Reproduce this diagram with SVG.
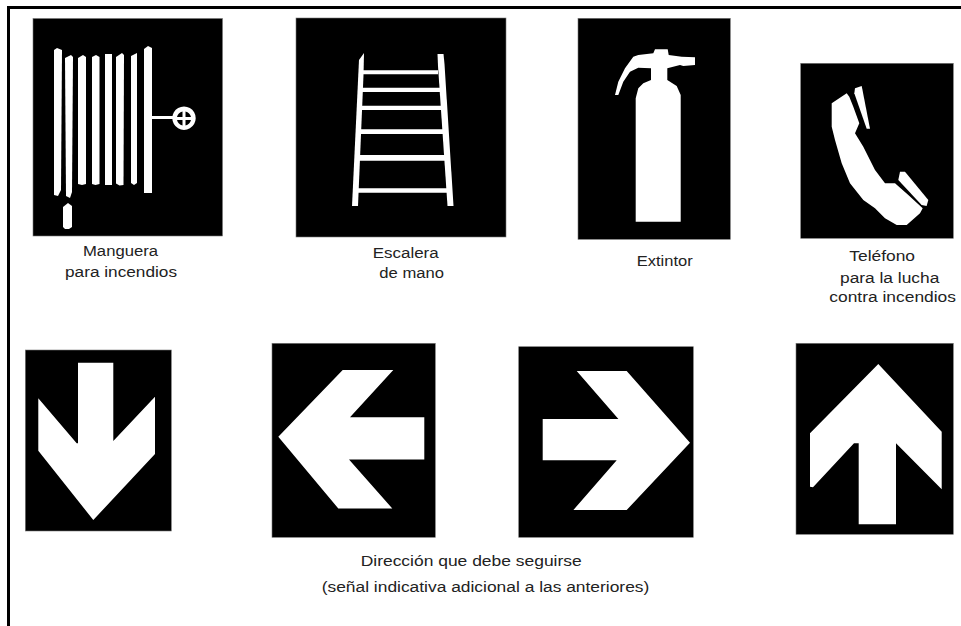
<svg xmlns="http://www.w3.org/2000/svg" width="961" height="626" viewBox="0 0 961 626">
<style>
text{font-family:"Liberation Sans",Arial,sans-serif;font-size:15.5px;fill:#222}
.s{fill:#000;stroke:#777;stroke-width:.6}
.w{fill:#fff}
</style>
<rect width="961" height="626" fill="#fff"/>
<path id="frame" d="M961 7.500H8.500V626" fill="none" stroke="#000" stroke-width="3"/>
<g id="manguera">
<rect class="s" x="33" y="18.500" width="189.500" height="217.500"/>
<g class="w">
<path d="M54 50l3-2 5 2-1 140-3 6-4-1z"/>
<path d="M65 58l6-3 2 2-1 135-2 6-4-2z"/>
<path d="M78 58l5-3 3 2v127l-4 1-4-1z"/>
<path d="M92 57l4-2 3.500 2v127l-4 1-3.500-1z"/>
<path d="M105 54h7v131h-7z"/>
<path d="M116 57l6-4 2 2-.5 130-4 .5-3.500-2z"/>
<path d="M131 56l6-3v130l-3 2-3-2z"/>
<path d="M144 49l4-3 4 2v145h-8z"/>
<path d="M152 116h22v3h-22z"/>
<path d="M63 207l5-4 4 3v21l-3 2h-4l-2-2z"/>
<path fill-rule="evenodd" d="M184 106.500a11.700 11.700 0 1 0 .01 0zM182.500 111.500v5.500h-5.500a7.500 7.500 0 0 1 5.500-5.500zM185.500 111.500a7.500 7.500 0 0 1 5.500 5.500h-5.500zM177 120h5.500v5.500a7.500 7.500 0 0 1-5.500-5.500zM185.500 120h5.500a7.500 7.500 0 0 1-5.500 5.500z"/>
</g>
<text x="83" y="256" textLength="75" lengthAdjust="spacingAndGlyphs">Manguera</text>
<text x="65" y="277" textLength="112" lengthAdjust="spacingAndGlyphs">para incendios</text>
</g>
<g id="escalera">
<rect class="s" x="296" y="18" width="210" height="219"/>
<g class="w">
<path d="M364 53l-5 7-7 146h6l5.500-131z"/>
<path d="M437.500 54h6l1 10 9 142h-6l-9.500-140z"/>
<path d="M362 70.300h76v4h-76zM362 87.700h78v4.300h-78zM360 105.700h82v4.300h-82zM358 129.300h86v4.700h-86zM357 155h89v5.700h-89zM356 188.300h92v4.400h-92z"/>
</g>
<text x="372.700" y="258" textLength="66" lengthAdjust="spacingAndGlyphs">Escalera</text>
<text x="379.300" y="277.700" textLength="64.700" lengthAdjust="spacingAndGlyphs">de mano</text>
</g>
<g id="extintor">
<rect class="s" x="578" y="18.300" width="152.300" height="221"/>
<path class="w" d="M635.700 221.700V98.300L638.300 88.300 643.300 83.300 651 80V68.300L638.300 67.700 630 71.700 623.300 81.700 618.300 95H615L618.300 81.700 625 68.300 633.300 56.700 638.300 55 653.300 53.300 655 49.300H667.700L668.700 55 681.700 56.700 695 57.300V65L683.300 66 680 65 667.300 68.300V80L676.700 86 680.700 95V221.700z"/>
<text x="636.700" y="266" textLength="56" lengthAdjust="spacingAndGlyphs">Extintor</text>
</g>
<g id="telefono">
<rect class="s" x="800.700" y="63.300" width="152.600" height="175"/>
<g class="w">
<path d="M831.700 103.300L846.700 93.300 849.300 96.700 853.300 106.700 859.300 123.300 855 133.300 863.300 146.700 875 170 885 183.300H895L908.300 195 922.700 208.300 920 213.300 906.700 225H896.700L885 218.300 875 208.300 863.300 200 850 183.300 841.700 163.300 835 140 831.700 126.700z"/>
<path d="M855 88.300l6.700-2.300 8.300 42.700h-3.300L854.300 93.300z"/>
<path d="M900 171.700h5l23.300 28.300-1.700 6-5-1-23.300-25z"/>
</g>
<text x="849.300" y="260.700" textLength="65.700" lengthAdjust="spacingAndGlyphs">Teléfono</text>
<text x="840" y="282.700" textLength="99.300" lengthAdjust="spacingAndGlyphs">para la lucha</text>
<text x="829.300" y="301.700" textLength="126.700" lengthAdjust="spacingAndGlyphs">contra incendios</text>
</g>
<g id="flecha-abajo">
<rect class="s" x="25.300" y="350" width="146" height="181"/>
<path class="w" d="M78 362.700h35.300V441l41.700-44.300V454l-61.700 66-55-69.300V398.300L76.700 443.300H78z"/>
</g>
<g id="flecha-izquierda">
<rect class="s" x="272" y="343.300" width="163.300" height="194"/>
<path class="w" d="M393.300 370H342.700L278.300 436.700l60 71.700h54l-43.300-48.800H424.300V417.300H350z"/>
</g>
<g id="flecha-derecha">
<rect class="s" x="518.700" y="346.700" width="174.600" height="190.600"/>
<path class="w" d="M576.700 371h50l63.300 71.700-63.300 67.300h-53.300l43.300-49.800H542.700V419h75.700z"/>
</g>
<g id="flecha-arriba">
<rect class="s" x="796" y="343.300" width="157.300" height="191"/>
<path class="w" d="M878.300 364l63.400 67.700V489.300L896 443.300v81h-37.300v-81h-4.700L813 487.300l-3-.6v-53.400z"/>
</g>
<g id="direccion">
<text x="360.700" y="565.700" textLength="221" lengthAdjust="spacingAndGlyphs">Dirección que debe seguirse</text>
<text x="321.700" y="591.700" textLength="327.600" lengthAdjust="spacingAndGlyphs">(señal indicativa adicional a las anteriores)</text>
</g>
</svg>
